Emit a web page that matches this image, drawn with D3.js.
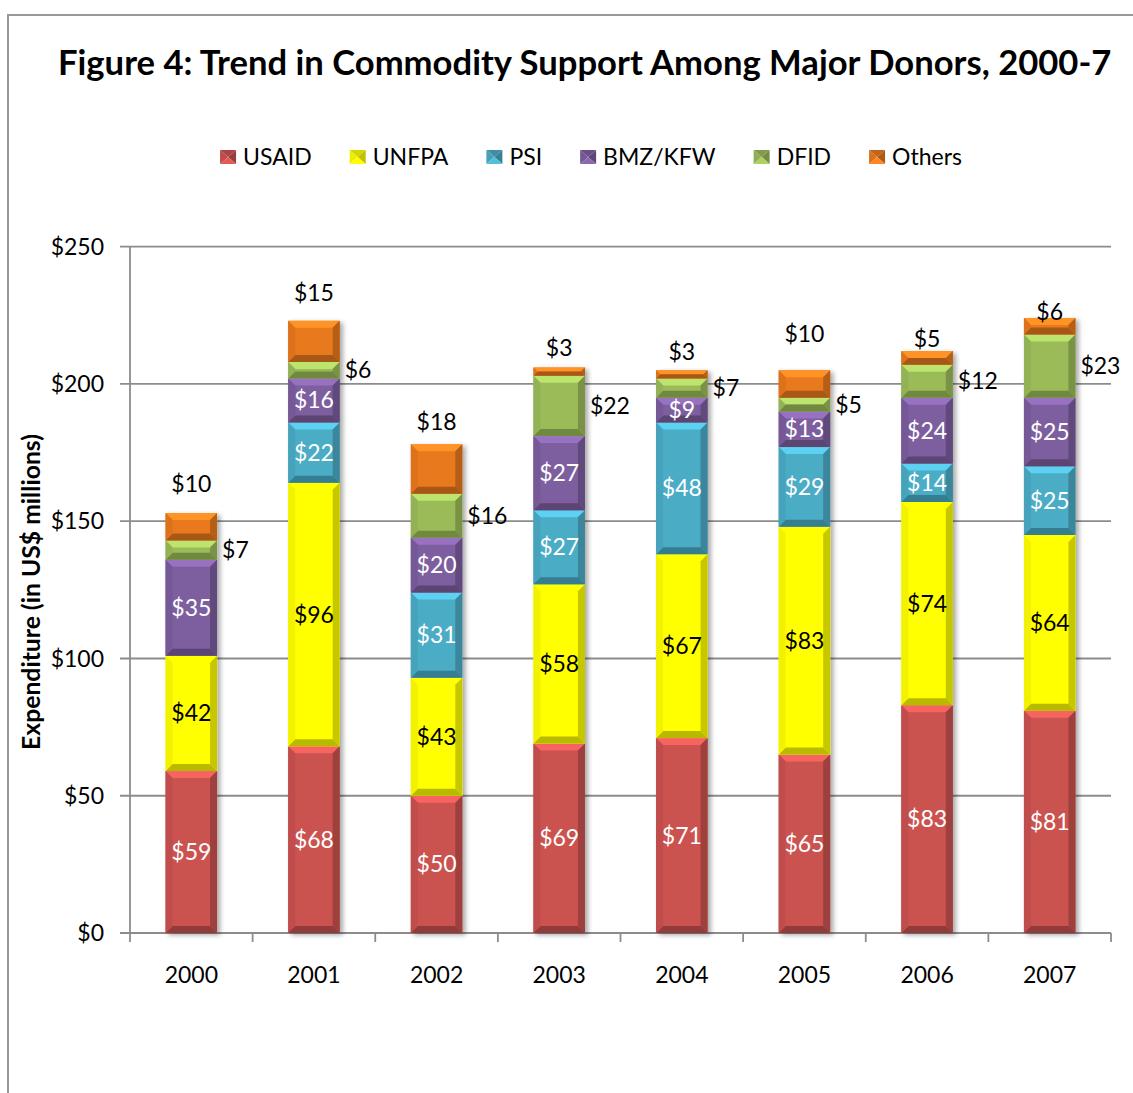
<!DOCTYPE html>
<html><head><meta charset="utf-8">
<script src="https://cdn.jsdelivr.net/npm/d3@7"></script>
<style>
body{margin:0;background:#fff}
svg{display:block}
text{font-family:Lato,"Open Sans",sans-serif}
</style>
</head><body>
<svg id="c" width="1133" height="1093"></svg>
<script>
// ---- data ----
const years = ["2000","2001","2002","2003","2004","2005","2006","2007"];
const seriesNames = ["USAID","UNFPA","PSI","BMZ/KFW","DFID","Others"];
const usaid  = [59,68,50,69,71,65,83,81];
const unfpa  = [42,96,43,58,67,83,74,64];
const psi    = [0,22,31,27,48,29,14,25];
const bmz    = [35,16,20,27,9,13,24,25];
const dfid   = [7,6,16,22,7,5,12,23];
const others = [10,15,18,3,3,10,5,6];
const yTicks = [0,50,100,150,200,250];
const titleText = "Figure 4: Trend in Commodity Support Among Major Donors, 2000-7";
const yTitle = "Expenditure (in US$ millions)";
// manual lift of the "Others" labels above the bar top (px), as placed in the original
const othersLabelLift = [29,28,22,20,18,36,12,6];

// ---- style ----
const colors = ["#CB5250","#FFFF00","#4BACC6","#7D5E9F","#9BBB59","#E8791F"];
const labelFill = ["#fff","#000","#fff","#fff","#000","#000"];
const gridColor = "#8c8c8c";

const svg = d3.select("#c");
const values = [usaid,unfpa,psi,bmz,dfid,others];
const table = years.map((y,i)=>{const o={year:y}; seriesNames.forEach((s,k)=>o[s]=values[k][i]); return o;});
const stacked = d3.stack().keys(seriesNames)(table);

const L=130,R=1111,T=246.7,B=933;
const x = d3.scaleBand().domain(years).range([L,R]).paddingInner(0.58).paddingOuter(0.29);
const y = d3.scaleLinear().domain([0,250]).range([B,T]);
const step = x.step();

// frame
svg.append("path").attr("d",`M8,1093 L8,15 L1133,15`).attr("fill","none").attr("stroke","#999").attr("stroke-width",2);

// title fitted to width
const title = svg.append("text").attr("x",58).attr("y",75).attr("font-weight","bold").attr("font-size",30).attr("fill","#000").text(titleText);
{ const w = title.node().getComputedTextLength(); title.attr("font-size",30*1054/w); }

// gridlines
svg.append("g").selectAll("line").data(yTicks).join("line")
  .attr("x1",120).attr("x2",R).attr("y1",d=>y(d)).attr("y2",d=>y(d))
  .attr("stroke",gridColor).attr("stroke-width",1.8);
// y axis line
svg.append("line").attr("x1",L).attr("x2",L).attr("y1",T).attr("y2",B).attr("stroke",gridColor).attr("stroke-width",1.8);
// x ticks
const xt = d3.range(years.length+1).map(i=>L+i*step);
svg.append("g").selectAll("line").data(xt).join("line")
  .attr("x1",d=>d).attr("x2",d=>d).attr("y1",B).attr("y2",B+9).attr("stroke",gridColor).attr("stroke-width",1.8);

// y tick labels
svg.append("g").selectAll("text").data(yTicks).join("text")
  .attr("x",104).attr("y",d=>y(d)).attr("dy","0.35em").attr("text-anchor","end")
  .attr("font-size",23).attr("fill","#000").text(d=>"$"+d);
// x labels
svg.append("g").selectAll("text").data(years).join("text")
  .attr("x",d=>x(d)+x.bandwidth()/2).attr("y",975).attr("dy","0.35em").attr("text-anchor","middle")
  .attr("font-size",23).attr("fill","#000").text(d=>d);

// y title
const yt = svg.append("text").attr("transform","translate(40,592) rotate(-90)").attr("text-anchor","middle")
  .attr("font-weight","bold").attr("font-size",21).attr("fill","#000").text(yTitle);
{ const w = yt.node().getComputedTextLength(); yt.attr("font-size",21*316/w); }

// bevel helper
function bevel(g, x0, y0, w, h, base, bmax){
  const c = d3.color(base);
  const b = Math.max(0, Math.min(bmax, h/2, w/2));
  g.append("rect").attr("x",x0).attr("y",y0).attr("width",w).attr("height",h).attr("fill",base);
  const x1=x0+w, y1=y0+h;
  g.append("path").attr("d",`M${x0},${y0}L${x1},${y0}L${x1-b},${y0+b}L${x0+b},${y0+b}Z`).attr("fill",c.brighter(0.55).formatHex());
  g.append("path").attr("d",`M${x0},${y1}L${x1},${y1}L${x1-b},${y1-b}L${x0+b},${y1-b}Z`).attr("fill",c.darker(0.9).formatHex());
  g.append("path").attr("d",`M${x0},${y0}L${x0+b},${y0+b}L${x0+b},${y1-b}L${x0},${y1}Z`).attr("fill",c.darker(0.15).formatHex());
  g.append("path").attr("d",`M${x1},${y0}L${x1-b},${y0+b}L${x1-b},${y1-b}L${x1},${y1}Z`).attr("fill",c.darker(0.7).formatHex());
}

// bar shadow
const shadow = svg.append("defs").append("filter").attr("id","sh").attr("x","-20%").attr("y","-5%").attr("width","150%").attr("height","115%");
shadow.append("feGaussianBlur").attr("in","SourceAlpha").attr("stdDeviation",2.5);
shadow.append("feOffset").attr("dx",3).attr("dy",2).attr("result","o");
shadow.append("feComponentTransfer").append("feFuncA").attr("type","linear").attr("slope",0.35);
const fm = shadow.append("feMerge"); fm.append("feMergeNode"); fm.append("feMergeNode").attr("in","SourceGraphic");

// bars
const bars = svg.append("g").attr("filter","url(#sh)");
stacked.forEach((s,k)=>{
  s.forEach((d,i)=>{
    if(d[1]-d[0] <= 0) return;
    const g = bars.append("g");
    bevel(g, x(years[i]), y(d[1]), x.bandwidth(), y(d[0])-y(d[1]), colors[k], 7);
  });
});

// labels
const lab = svg.append("g").attr("font-size",23);
stacked.forEach((s,k)=>{
  s.forEach((d,i)=>{
    const v = d[1]-d[0];
    if(v<=0) return;
    const cx = x(years[i])+x.bandwidth()/2, cy=(y(d[0])+y(d[1]))/2;
    const t = lab.append("text").attr("dy","0.35em").attr("fill",labelFill[k]).text("$"+v);
    if(k===4){ t.attr("x",x(years[i])+x.bandwidth()+5).attr("y",cy).attr("text-anchor","start"); }
    else if(k===5){ t.attr("x",cx).attr("y",y(d[1])-othersLabelLift[i]).attr("text-anchor","middle"); }
    else { t.attr("x",cx).attr("y",cy).attr("text-anchor","middle"); }
  });
});

// legend
const leg = svg.append("g");
let lx = 0;
const items = [];
seriesNames.forEach((n,k)=>{
  const g = leg.append("g");
  const mw=16, mh=14, my=157-mh/2;
  const c=d3.color(colors[k]);
  const cxm=lx+mw/2, cym=my+mh/2;
  g.append("path").attr("d",`M${lx},${my}L${lx+mw},${my}L${cxm},${cym}Z`).attr("fill",c.darker(0.5).formatHex());
  g.append("path").attr("d",`M${lx},${my}L${lx},${my+mh}L${cxm},${cym}Z`).attr("fill",c.darker(0.2).formatHex());
  g.append("path").attr("d",`M${lx+mw},${my}L${lx+mw},${my+mh}L${cxm},${cym}Z`).attr("fill",c.darker(0.8).formatHex());
  g.append("path").attr("d",`M${lx},${my+mh}L${lx+mw},${my+mh}L${cxm},${cym}Z`).attr("fill",c.brighter(0.3).formatHex());
  const t = g.append("text").attr("x",lx+mw+7).attr("y",157).attr("dy","0.35em").attr("font-size",23).attr("fill","#000").text(n);
  lx += mw+7+t.node().getComputedTextLength()+38;
});
const totalW = lx-38;
leg.attr("transform",`translate(${591-totalW/2},0)`);
</script>
</body></html>
